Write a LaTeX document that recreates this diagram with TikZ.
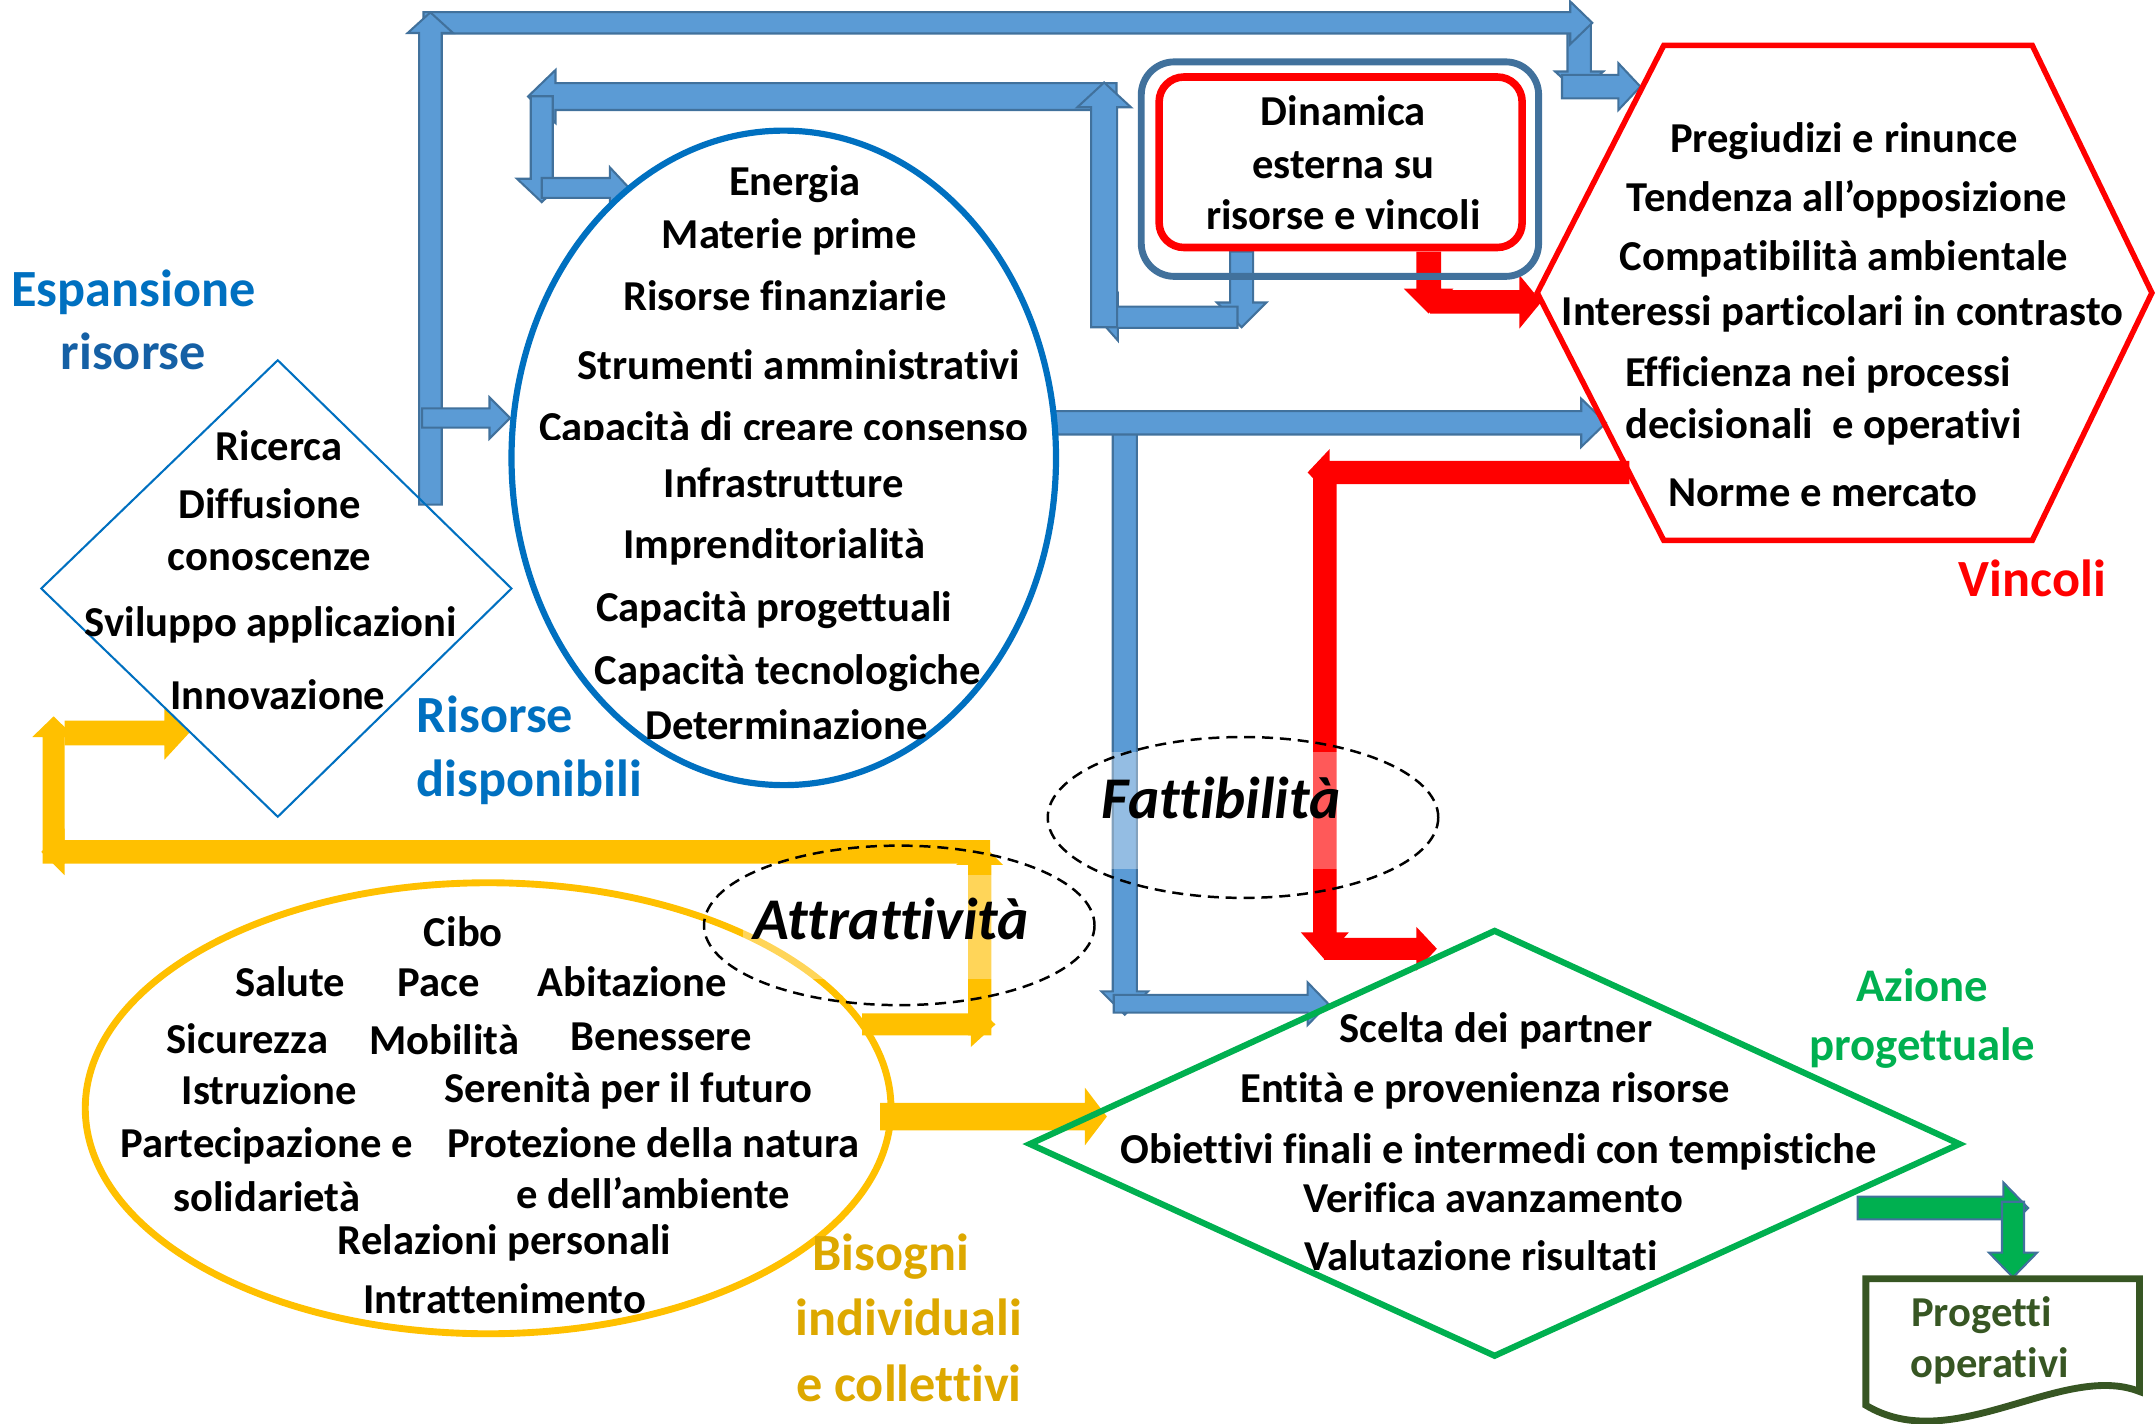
\documentclass[tikz,border=0pt]{standalone}
\usepackage{fontspec}
\setmainfont{Carlito}[Ligatures={NoCommon}, RawFeature={-liga;-clig;-calt;-dlig}]
\usetikzlibrary{shapes.geometric}

\definecolor{arrblue}{HTML}{5B9BD5}
\definecolor{arrline}{HTML}{41719C}
\definecolor{yel}{HTML}{FFC000}
\definecolor{grn}{HTML}{00B050}
\definecolor{ellblue}{HTML}{0070C0}
\definecolor{darkblue}{HTML}{1560A5}
\definecolor{gold}{HTML}{DDA800}
\definecolor{docgreen}{HTML}{375623}

% horizontal block arrow: style, x start, x tip, y, shaft width, head width, head length
\newcommand\harr[7]{%
  \pgfmathsetmacro\myHB{#3-(#7)*sign(#3-#2)}%
  \path[#1] (#2,{#4-#5/2}) -- (\myHB,{#4-#5/2}) -- (\myHB,{#4-#6/2}) -- (#3,#4)
    -- (\myHB,{#4+#6/2}) -- (\myHB,{#4+#5/2}) -- (#2,{#4+#5/2}) -- cycle;}
% vertical block arrow: style, y start, y tip, x, shaft width, head width, head length
\newcommand\varr[7]{%
  \pgfmathsetmacro\myHB{#3-(#7)*sign(#3-#2)}%
  \path[#1] ({#4-#5/2},#2) -- ({#4-#5/2},\myHB) -- ({#4-#6/2},\myHB) -- (#4,#3)
    -- ({#4+#6/2},\myHB) -- ({#4+#5/2},\myHB) -- ({#4+#5/2},#2) -- cycle;}

\tikzset{
  bluearr/.style={fill=arrblue, draw=arrline, line width=1.5pt, line join=miter},
  yelarr/.style={fill=yel},
  redarr/.style={fill=red},
  greenarr/.style={fill=grn, draw=arrline, line width=1.5pt, line join=miter},
  txt/.style={font=\fontsize{31}{37}\selectfont\bfseries, anchor=base, inner sep=0pt},
  lbl/.style={font=\fontsize{38}{45}\selectfont\bfseries, anchor=base, inner sep=0pt},
  ital/.style={font=\fontsize{43}{50}\selectfont\bfseries\itshape, anchor=base, inner sep=0pt},
  dashell/.style={draw=black, line width=1.8pt, dash pattern=on 8pt off 5pt},
}

\begin{document}
\begin{tikzpicture}[x=1pt,y=-1pt]
\useasboundingbox (0,0) rectangle (1568,1035);

% ---------- yellow flow (needs back to research) ----------
\harr{yelarr}{627}{724}{745}{16}{33}{18}
\varr{yelarr}{753}{612}{712.5}{17}{34}{17}
\harr{yelarr}{720}{30}{619.5}{17}{34}{17}
\varr{yelarr}{628}{521}{39}{16}{31}{15}
\harr{yelarr}{47}{137.6}{533}{18}{39}{18}
\harr{yelarr}{640}{805}{812}{20}{42}{16}

% ---------- blue flow: expansion of resources ----------
\varr{bluearr}{17}{68}{1148.5}{17}{35}{16}
\harr{bluearr}{308}{1158}{16.6}{15.5}{31}{16}
\varr{bluearr}{367}{9}{313}{16.5}{33}{15}
\harr{bluearr}{1136}{1193}{63}{17}{34}{16}
\harr{bluearr}{307}{371}{304}{14}{30}{15}

% ---------- blue flow: external dynamics back to resources ----------
\varr{bluearr}{183}{238}{903}{16.7}{36}{18}
\harr{bluearr}{900}{798}{230.7}{15.5}{34}{15}
\harr{bluearr}{812}{384}{70.2}{19.6}{38.6}{20}
\varr{bluearr}{70}{147}{394}{16}{36}{17}
\harr{bluearr}{394}{457.5}{136.7}{14.5}{30}{14}
\varr{bluearr}{238}{60}{803}{19}{39}{18}

% ---------- blue flow: resources to constraints and to action ----------
\varr{bluearr}{310}{738}{818}{17.5}{34}{17}
\harr{bluearr}{766}{1168}{307.5}{17}{35}{18}
\harr{bluearr}{810}{966}{730}{13}{31}{15}

% ---------- red flows ----------
\varr{redarr}{183}{228}{1039}{18}{36}{18}
\harr{redarr}{1040}{1121}{219.5}{17}{39}{16}
\harr{redarr}{1185}{951}{343.6}{17}{34}{16}
\varr{redarr}{344}{698}{963.5}{17}{35}{20}
\harr{redarr}{963}{1045}{690}{16}{32}{15}

% ---------- green flow to operative projects ----------
\harr{greenarr}{1351}{1475}{878.5}{16.5}{37}{18}
\varr{greenarr}{874}{929}{1464}{16}{35}{18}

% ---------- shapes ----------
% research diamond
\coordinate (rdT) at (202,262); \coordinate (rdR) at (372,428);
\coordinate (rdB) at (202,594); \coordinate (rdL) at (30,428);
\draw[ellblue, line width=1.5pt] (rdT) -- (rdR) -- (rdB) -- (rdL) -- cycle;

% available resources ellipse
\draw[ellblue, line width=4.5pt] (570,333) ellipse [x radius=198, y radius=238];

% constraints hexagon
\draw[red, line width=4pt, line join=miter]
  (1210,33) -- (1478,33) -- (1565,213) -- (1478,393) -- (1210,393) -- (1118,213) -- cycle;

% needs ellipse
\draw[yel, line width=5pt] (355,806) ellipse [x radius=293, y radius=164];

% project action diamond
\draw[grn, line width=4.5pt, line join=miter]
  (1087,677) -- (1425,832) -- (1087,986) -- (749,832) -- cycle;

% document shape
\draw[docgreen, line width=5pt, line join=miter]
  (1357,930) -- (1556,930) -- (1556,1012) .. controls (1500,990) and (1420,1060) .. (1357,1022) -- cycle;

% external dynamics box
\draw[arrline, line width=5pt, rounded corners=24pt] (830,45) rectangle (1119,201);
\draw[red, line width=5.5pt, fill=white, rounded corners=18pt] (843,56) rectangle (1107,180);

% ---------- texts ----------
\node[lbl, text=ellblue] (espA) at (97,223) {Espansione};
\node[lbl, text=darkblue] (espB) at (97,269) {risorse};

\node[txt] (d1) at (203,335) {Ricerca};
\node[txt] (d2) at (196,377) {Diffusione};
\node[txt] (d3) at (196,415) {conoscenze};
\node[txt] (d4) at (197,463) {Sviluppo applicazioni};
\node[txt] (d5) at (202,516) {Innovazione};

\node[txt] (e1) at (578,142) {Energia};
\node[txt] (e2) at (574,181) {Materie prime};
\node[txt] (e3) at (571,226) {Risorse finanziarie};
\node[txt] (e4) at (581,276) {Strumenti amministrativi};
\begin{scope}
  \clip (380,280) rectangle (770,319.5);
  \node[txt] (e5) at (570,321) {Capacità di creare consenso};
\end{scope}
\node[txt] (e6) at (570,362) {Infrastrutture};
\node[txt] (e7) at (563,406) {Imprenditorialità};
\node[txt] (e8) at (563,452) {Capacità progettuali};
\node[txt] (e9) at (573,498) {Capacità tecnologiche};
\node[txt] (e10) at (572,538) {Determinazione};

\node[lbl, text=ellblue, anchor=base west] (risA) at (303,533) {Risorse};
\node[lbl, text=ellblue, anchor=base west] (risB) at (303,579) {disponibili};

\node[txt] (din1) at (977,91) {Dinamica};
\node[txt] (din2) at (977,130) {esterna su};
\node[txt] (din3) at (977,167) {risorse e vincoli};

\node[txt] (v1) at (1341,111) {Pregiudizi e rinunce};
\node[txt] (v2) at (1343,154) {Tendenza all’opposizione};
\node[txt] (v3) at (1341,197) {Compatibilità ambientale};
\node[txt] (v4) at (1340,237) {Interessi particolari in contrasto};
\node[txt] (v5) at (1322,281) {Efficienza nei processi};
\node[txt] (v6) at (1326,319) {decisionali\ \ e operativi};
\node[txt] (v7) at (1326,368) {Norme e mercato};
\node[lbl, text=red] (vinc) at (1478,434) {Vincoli};

\node[txt] (b1) at (337,688) {Cibo};
\node[txt] (b2) at (211,725) {Salute};
\node[txt] (b3) at (319,725) {Pace};
\node[txt] (b4) at (460,725) {Abitazione};
\node[txt] (b5) at (180,766) {Sicurezza};
\node[txt] (b6) at (323,767) {Mobilità};
\node[txt] (b7) at (481,764) {Benessere};
\node[txt] (b8) at (196,803) {Istruzione};
\node[txt] (b9) at (457,802) {Serenità per il futuro};
\node[txt] (b10) at (194,842) {Partecipazione e};
\node[txt] (b11) at (475,842) {Protezione della natura};
\node[txt] (b12) at (194,881) {solidarietà};
\node[txt] (b13) at (475,879) {e dell’ambiente};
\node[txt] (b14) at (367,912) {Relazioni personali};
\node[txt] (b15) at (367,955) {Intrattenimento};

\node[lbl, text=gold] (bisA) at (648,924) {Bisogni};
\node[lbl, text=gold] (bisB) at (661,971) {individuali};
\node[lbl, text=gold] (bisC) at (661,1019) {e collettivi};

\node[txt] (a1) at (1088,758) {Scelta dei partner};
\node[txt] (a2) at (1080,802) {Entità e provenienza risorse};
\node[txt] (a3) at (1090,846) {Obiettivi finali e intermedi con tempistiche};
\node[txt] (a4) at (1086,882) {Verifica avanzamento};
\node[txt] (a5) at (1077,924) {Valutazione risultati};

\node[lbl, font=\fontsize{34}{40}\selectfont\bfseries, text=grn] (azA) at (1398,728) {Azione};
\node[lbl, font=\fontsize{34}{40}\selectfont\bfseries, text=grn] (azB) at (1398,771) {progettuale};

\node[txt, text=docgreen] (pr1) at (1441,965) {Progetti};
\node[txt, text=docgreen] (pr2) at (1447,1002) {operativi};

% ---------- feasibility and attractiveness ----------
\fill[white, opacity=0.35] (795,547) rectangle (980,632);
\node[ital] (fatt) at (888,595) {Fattibilità};
\fill[white, opacity=0.35] (540,636) rectangle (755,712);
\node[ital] (attr) at (648,683) {Attrattività};
\draw[dashell] (904,594.5) ellipse [x radius=142, y radius=58.5];
\draw[dashell] (654,673) ellipse [x radius=142, y radius=58];

\end{tikzpicture}
\end{document}
